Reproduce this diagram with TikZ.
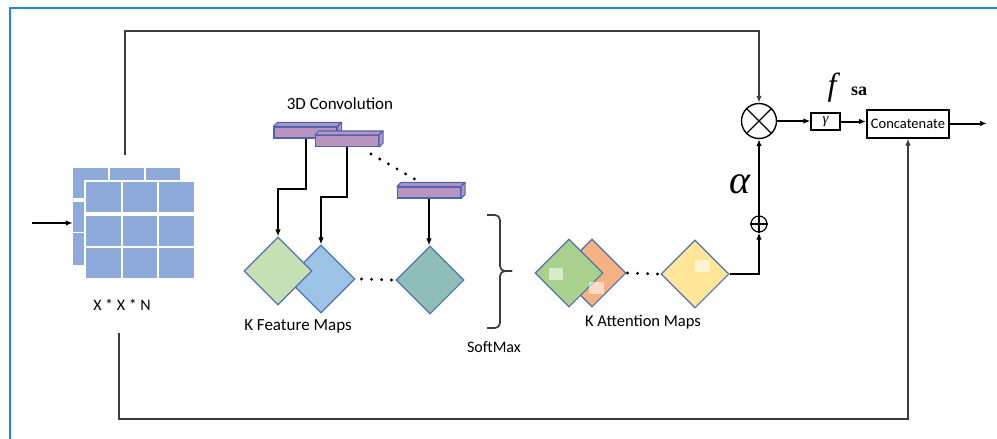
\documentclass[tikz,border=0pt]{standalone}
\usepackage{fontspec}
\setmainfont{Carlito}
\newfontfamily\libserif{Liberation Serif}
\usetikzlibrary{arrows.meta,shapes.geometric,calc}
\definecolor{framecol}{HTML}{1E8BC8}
\definecolor{cellcol}{HTML}{8EAADB}
\definecolor{barfill}{HTML}{B994C0}
\definecolor{barline}{HTML}{4A66B0}
\definecolor{dialine}{HTML}{5272AE}
\definecolor{fgreen}{HTML}{C5E0B4}
\definecolor{fblue}{HTML}{9DC3E6}
\definecolor{fteal}{HTML}{8FBDBA}
\definecolor{agreen}{HTML}{A9D18E}
\definecolor{aorange}{HTML}{F4B183}
\definecolor{ayellow}{HTML}{FFE699}
\definecolor{glinecol}{HTML}{3C3C3C}
\newcommand{\barfaces}[1]{%
  \filldraw[barfill, draw=barline, line width=1.1pt, line join=round]
    (#1.north west) -- ++(4,-4) -- ($(#1.north east)+(4,-4)$) -- (#1.north east) -- cycle;
  \filldraw[barfill, draw=barline, line width=1.1pt, line join=round]
    (#1.north east) -- ++(4,-4) -- ($(#1.south east)+(4,-4)$) -- (#1.south east) -- cycle;
}
\begin{document}
\begin{tikzpicture}[x=1pt,y=-1pt,
  lbl/.style={font=\fontsize{17}{19}\selectfont},
  arr/.style={line width=2pt, -{Latex[length=7pt,width=5.5pt]}},
  gline/.style={line width=2pt, draw=glinecol},
  cell/.style={fill=cellcol},
  convbar/.style={rectangle, fill=barfill, draw=barline, line width=1.1pt, minimum width=63pt, minimum height=11pt, inner sep=0pt},
  dia/.style={diamond, aspect=1, draw=dialine, line width=1.1pt, minimum size=68pt, inner sep=0pt},
  dots/.style={line width=3.2pt, line cap=round, dash pattern=on 0pt off 10pt},
  shine/.style={fill=white, fill opacity=0.55}
]
\useasboundingbox (0,0) rectangle (997,439);
% frame
\draw[framecol, line width=2.4pt] (10,439) -- (10,8) -- (997,8);

% cube: back layer
\node[minimum width=107pt, minimum height=97pt, inner sep=0pt] (cube) at (126.5,216.5) {};
\fill[cell] (73,168) rectangle (108,198);
\fill[cell] (109.5,168) rectangle (144,198);
\fill[cell] (145.5,168) rectangle (180,198);
\fill[cell] (73,201.5) rectangle (85,231.5);
\fill[cell] (73,233) rectangle (85,264.5);
% front layer
\fill[white] (84,180) rectangle (196,280);
\foreach \xa/\xb in {86/121, 122.5/157, 158.5/194}{
  \foreach \ya/\yb in {182/212, 215.5/246, 247.5/278}{
    \fill[cell] (\xa,\ya) rectangle (\xb,\yb);
  }
}
\coordinate (in) at (32,223);
\draw[arr] (in) -- (in -| cube.west);
\node[font=\fontsize{16}{18}\selectfont] (xxn) at (122,305) {X * X * N};

% 3D convolution bars
\node[lbl] (convlbl) at (340,104) {3D Convolution};
\node[convbar] (c1) at (305.5,132.5) {};
\barfaces{c1}
\node[convbar] (c2) at (347,141) {};
\barfaces{c2}
\node[convbar] (c3) at (429,192.5) {};
\barfaces{c3}
\coordinate (d1) at (371,154);
\coordinate (d2) at (415.5,179.5);
\draw[dots] (d1) -- (d2);

% feature maps
\node[dia, fill=fblue] (fb) at (321,279) {};
\node[dia, fill=fgreen] (fg) at (278,271) {};
\node[dia, fill=fteal] (ft) at (430,280) {};
\draw[dots] ($(fb.east)+(6,0)$) -- ($(ft.west)+(-2,0)$);
\node[lbl] (fmlbl) at (298,326) {K Feature Maps};

\draw[arr] (c1.south) -- ($(c1.south)+(0,50)$) -| (fg.north);
\draw[arr] (c2.south) -- ($(c2.south)+(0,50)$) -| (fb.north);
\draw[arr] (c3.south) -- (c3.south |- ft.north);

% softmax brace
\coordinate (brtip) at (512,271);
\draw[glinecol, line width=1.7pt, rounded corners=5pt] (487,215) -- (500,215) -- (500,271) -- (brtip);
\draw[glinecol, line width=1.7pt, rounded corners=5pt] (brtip) -- (500,271) -- (500,328) -- (487,328);
\node[font=\fontsize{16}{18}\selectfont] (smlbl) at (494,347) {SoftMax};

% attention maps
\node[dia, fill=aorange] (ao) at (592,273) {};
\node[dia, fill=agreen] (ag) at (569,273) {};
\node[dia, fill=ayellow] (ay) at (695,274) {};
\fill[shine] (549,268) rectangle (563,280);
\fill[shine] (589,282) rectangle (604,294);
\fill[shine] (695,260) rectangle (710,272);
\draw[dots] ($(ao.east)+(1,0)$) -- ($(ay.west)+(-1,0)$);
\node[font=\fontsize{16.5}{18}\selectfont] (amlbl) at (643,322) {K Attention Maps};

% operators
\node[circle, draw, line width=1.4pt, minimum size=35pt, inner sep=0pt] (otimes) at (759,121) {};
\draw[line width=1.4pt] (otimes.north west) -- (otimes.south east);
\draw[line width=1.4pt] (otimes.north east) -- (otimes.south west);
\node[circle, draw, line width=1.2pt, minimum size=16pt, inner sep=0pt] (oplus) at (759,224) {};
\draw[line width=1.2pt] (oplus.north) -- (oplus.south);
\draw[line width=1.2pt] (oplus.west) -- (oplus.east);

\draw[arr] (ay.east) -| (oplus.south);
\draw[arr] (oplus.north) -- (otimes.south);
\node[font=\fontsize{40}{40}\selectfont\libserif\itshape] (alpha) at (740,184) {α};

% gamma and concatenate
\node[draw, line width=1.2pt, minimum width=29pt, minimum height=17pt, inner sep=0pt, font=\fontsize{15}{15}\selectfont\libserif\itshape] (gam) at (825.5,121.5) {γ};
\node[draw, line width=2pt, minimum width=82pt, minimum height=28pt, inner sep=0pt, font=\fontsize{14.5}{16}\selectfont] (concat) at (908,123.5) {Concatenate};
\coordinate (out) at (987,123.5);
\draw[arr] (otimes.east) -- (otimes.east -| gam.west);
\draw[arr] (gam.east) -- (gam.east -| concat.west);
\draw[arr] (concat.east) -- (out);
\node[font=\fontsize{32}{32}\selectfont\libserif\itshape] (fsaf) at (832,88) {f};
\node[font=\fontsize{18}{18}\selectfont\libserif\bfseries] (fsas) at (859,91) {sa};

% skip connections
\coordinate (tl) at (125,155);
\draw[gline, -{Latex[length=7pt,width=5.5pt]}] (tl) -- (125,31) -| (otimes.north);
\coordinate (bl) at (119,333);
\draw[gline, -{Latex[length=7pt,width=5.5pt]}] (bl) -- (119,419) -| (concat.south);
\end{tikzpicture}
\end{document}
